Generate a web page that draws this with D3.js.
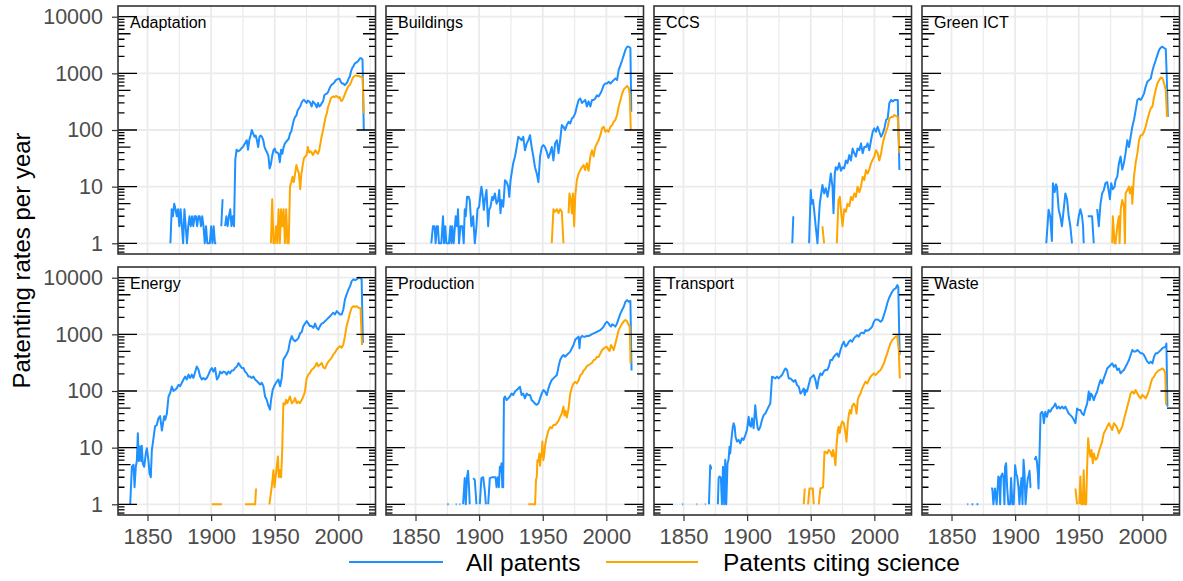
<!DOCTYPE html>
<html><head><meta charset="utf-8">
<script src="https://cdn.jsdelivr.net/npm/d3@7"></script>
<style>
body{margin:0;background:#fff}
svg{display:block;font-family:"Liberation Sans",Arial,sans-serif}
</style>
</head><body>
<svg id="chart" width="1183" height="581"></svg>
<script>
// ---------- DATA ----------
const categories = ["Adaptation","Buildings","CCS","Green ICT","Energy","Production","Transport","Waste"];
const seriesNames = ["All patents","Patents citing science"];
const seriesColors = ["#1E90FF","#FFA500"];
const xTickValues = [1850,1900,1950,2000];
const yTickValues = [1,10,100,1000,10000];
const yAxisTitle = "Patenting rates per year";

// [year, patents] pairs; null = break (zero patents)
const adaptationAll = [[1868,1],[1869,4],[1870,3],[1871,5],[1872,4],[1873,3],[1874,4],[1875,2],[1876,4],[1877,2],[1878,1],[1879,4],[1880,2],[1881,1],[1882,2],[1883,3],[1884,2],[1885,3],[1886,2],[1887,3],[1888,3],[1889,2],[1890,3],[1891,3],[1892,2],[1893,3],[1894,2],[1895,1],[1896,2],[1897,1],[1898,1],[1899,1],[1900,2],[1901,1],[1902,2],[1903,1],[1904,1],null,[1908,2],[1909,6],null,[1911,2],[1912,3],[1913,2],[1914,3],[1915,4],[1916,2],[1917,3],[1918,2],[1919,30],[1920,45],[1921,42],[1922,43],[1923,45],[1924,48],[1925,50],[1926,55],[1927,60],[1928,66],[1929,45],[1930,66],[1931,80],[1932,100],[1933,87],[1934,76],[1935,80],[1936,66],[1937,50],[1938,76],[1939,80],[1940,75],[1941,66],[1942,50],[1943,44],[1944,40],[1945,35],[1946,21],[1947,25],[1948,35],[1949,44],[1950,47],[1951,40],[1952,40],[1953,38],[1954,27],[1955,45],[1956,38],[1957,50],[1958,58],[1959,62],[1960,66],[1961,70],[1962,87],[1963,94],[1964,120],[1965,150],[1966,170],[1967,180],[1968,220],[1969,240],[1970,260],[1971,300],[1972,330],[1973,340],[1974,320],[1975,300],[1976,330],[1977,320],[1978,300],[1979,260],[1980,320],[1981,300],[1982,280],[1983,250],[1984,300],[1985,260],[1986,270],[1987,300],[1988,320],[1989,410],[1990,430],[1991,440],[1992,470],[1993,540],[1994,600],[1995,640],[1996,660],[1997,700],[1998,760],[1999,780],[2000,800],[2001,800],[2002,700],[2003,660],[2004,660],[2005,620],[2006,650],[2007,700],[2008,800],[2009,870],[2010,1100],[2011,1250],[2012,1350],[2013,1500],[2014,1550],[2015,1600],[2016,1700],[2017,1850],[2018,1850],[2019,1750],[2020,100]];
const adaptationSci = [[1947,1],[1948,6],[1949,1],[1950,1],[1951,2],[1952,1],[1953,4],[1954,1],[1955,4],[1956,2],[1957,4],[1958,1],[1959,4],[1960,1],[1961,1],[1962,10],[1963,12],[1964,15],[1965,12],[1966,17],[1967,24],[1968,20],[1969,17],[1970,9],[1971,17],[1972,24],[1973,32],[1974,34],[1975,36],[1976,50],[1977,40],[1978,42],[1979,40],[1980,36],[1981,40],[1982,44],[1983,40],[1984,38],[1985,44],[1986,60],[1987,80],[1988,100],[1989,130],[1990,170],[1991,200],[1992,260],[1993,300],[1994,360],[1995,380],[1996,390],[1997,380],[1998,400],[1999,390],[2000,370],[2001,380],[2002,330],[2003,330],[2004,370],[2005,420],[2006,480],[2007,540],[2008,600],[2009,620],[2010,700],[2011,800],[2012,870],[2013,900],[2014,920],[2015,900],[2016,900],[2017,880],[2018,870],[2019,850],[2020,195]];

const buildingsAll = [[1862.4,1],[1863.7,2],[1865,2],[1865.8,1],[1866.8,2],[1867.6,2],[1868.4,1],[1870.3,1],[1871.6,3],[1872.4,1],[1873.4,2],[1874.2,1],[1876.3,1],[1877.4,2],[1878.2,1],[1878.9,2],[1880,1],[1881.6,3],[1882.6,2],[1883.4,4],[1884.2,1],[1885.3,2],[1886.8,2],[1887.9,1],[1888.7,4],[1889.5,3],[1890.5,6.6],[1891.8,6.6],[1892.6,5.8],[1893.9,2],[1895.3,3],[1896.6,1],[1897.9,2],[1898.7,4],[1900,4.4],[1900.5,5.8],[1901.8,10],[1902.6,7.6],[1903.7,3.9],[1904.5,5.8],[1905.8,8.7],[1907.1,2],[1907.9,3.9],[1908.9,4.4],[1910.3,6.6],[1911,5.8],[1912.4,7.6],[1913.7,5],[1915,5.8],[1915.8,8.7],[1916.8,3.4],[1917.6,5.8],[1918.9,4.4],[1919.5,6.6],[1920.3,13],[1921.6,12],[1922.9,10],[1923.7,6.6],[1924.7,13],[1925.5,17],[1926.8,26],[1928.2,34],[1929.5,50],[1930.8,76],[1932.1,71],[1933.4,66],[1934.7,76],[1936,44],[1937.4,58],[1938.7,66],[1940,81],[1941.3,50],[1942.6,34],[1943.9,22],[1945.3,17],[1946.6,12],[1947.9,34],[1949.2,50],[1950.5,54],[1951.8,50],[1953.2,41],[1954.5,32],[1955.8,39],[1957.1,50],[1958.4,29],[1959.7,58],[1961.1,66],[1962.4,39],[1963.7,66],[1965,122],[1966.3,114],[1967.6,100],[1968.9,122],[1970.3,140],[1971.6,130],[1972.9,160],[1974.2,170],[1975.5,196],[1976.8,260],[1978.2,340],[1979.5,360],[1980.8,300],[1982.1,320],[1983.4,340],[1984.7,260],[1986,320],[1987.4,260],[1988.7,340],[1990,340],[1991.3,360],[1992.6,410],[1993.9,390],[1995.3,440],[1996.6,510],[1997.9,620],[1999.2,660],[2000.5,660],[2001.8,710],[2003.2,660],[2004.5,710],[2005.8,760],[2007.1,810],[2008.4,760],[2009.7,1150],[2011.1,1400],[2012.4,1700],[2013.7,2100],[2015,2600],[2016.3,2960],[2017.6,2960],[2018.9,2800],[2019.6,210]];
const buildingsSci = [[1957.1,1],[1958.4,4],[1959.7,3.6],[1961,4],[1962.4,3.4],[1963.7,4],[1965,3.6],[1966.3,1],null,[1970.3,3.4],[1971,7.6],[1972.1,5.8],[1972.9,3.4],[1973.7,7.6],[1974.7,2],[1975.5,6.6],[1976.8,13],[1978.2,17],[1979.5,19.6],[1980.8,22],[1982.1,24],[1983.4,19.6],[1984.7,26],[1986,19],[1987.4,34],[1988.7,44],[1990,34],[1991.3,50],[1992.6,58],[1993.9,66],[1995.3,81],[1996.6,107],[1997.9,114],[1999.2,93],[2000.5,100],[2001.8,93],[2003.2,114],[2004.5,122],[2005.8,140],[2007.1,150],[2008.4,184],[2009.7,260],[2011.1,340],[2012.4,440],[2013.7,520],[2015,560],[2016.3,600],[2017.6,550],[2018.4,420],[2019.2,100]];

const ccsAll = [[1935.5,1],[1936.3,3],null,[1948.7,1],[1950,8.7],[1950.8,5],[1951.8,5.8],[1952.6,4],[1953.9,2],[1955.3,1],[1956,2],[1957.1,5],[1958.4,8],[1959.2,10.7],[1960.5,7.6],[1961.8,9.4],[1963.2,6.6],[1964.5,10],[1965.8,17],[1967.1,10],[1967.9,3.4],[1968.9,17],[1969.7,22],[1971,20],[1972.4,26],[1973.7,19],[1975,22],[1976.3,21],[1977.6,29],[1978.9,26],[1980.3,36],[1981.6,29],[1982.9,47],[1984.2,39],[1985.5,34],[1986.8,47],[1988.2,44],[1989.5,58],[1990.8,39],[1992.1,50],[1993.4,50],[1994.7,58],[1996,44],[1997.4,66],[1998.7,93],[2000,107],[2001.3,93],[2002.6,114],[2003.9,93],[2005.3,76],[2006.6,87],[2007.9,107],[2009.2,150],[2010.5,160],[2011.8,300],[2013.2,340],[2014.5,320],[2015.8,340],[2017.1,340],[2018.4,340],[2019.7,19.6]];
const ccsSci = [[1959.2,2],[1960.5,1],null,[1970.5,1],[1971.8,5.8],[1972.9,6.6],[1974.2,3],[1975,2],[1976.3,4],[1977.6,3.6],[1978.9,5],[1980.3,4.5],[1981.6,6.6],[1982.9,5.8],[1984.2,7.6],[1985.5,6.6],[1986.8,10],[1988.2,8],[1989.5,10],[1990.8,15],[1992.1,13],[1993.4,19.6],[1994.7,17],[1996,20],[1997.4,26],[1998.7,30],[2000,34],[2001.3,44],[2002.6,39],[2003.9,29],[2005.3,39],[2006.6,58],[2007.9,76],[2009.2,93],[2010.5,114],[2011.8,160],[2013.2,170],[2014.5,170],[2015.8,184],[2017.1,175],[2018.4,170],[2019.7,39]];

const greenIctAll = [[1924.5,1],[1926.3,3.9],[1927.6,3],[1928.9,1.1],[1929.7,11.5],[1931.1,8],[1932.1,11],[1932.9,10],[1934.2,4],[1935.5,3],[1936.8,2],[1938.2,4],[1939.5,7.6],[1940.8,6],[1942.1,3],[1943.4,2],[1944.7,1],null,[1948.9,2],[1950,3],[1951.3,4],[1952.6,3],[1953.4,2],[1953.9,1],null,[1957.1,3],[1959.2,3],[1960.5,3],[1961.8,1],null,[1964.5,4],[1965.8,2],[1967.1,5],[1968.4,7.6],[1969.7,8.7],[1971,11.5],[1972.4,12],[1973.7,8],[1974.5,6],[1975.5,11.5],[1976.8,9],[1978.2,10],[1978.9,13],[1980.3,15],[1981.6,26],[1982.9,34],[1984.2,20],[1985.5,26],[1986.8,39],[1988.2,66],[1989.5,50],[1990.8,76],[1992.1,114],[1993.4,150],[1994.7,220],[1996.1,340],[1997.4,360],[1998.7,340],[2000,380],[2001.3,440],[2002.6,580],[2003.9,710],[2005.3,760],[2006.6,810],[2007.9,1100],[2009.2,1400],[2010.5,1700],[2011.8,2100],[2013.2,2600],[2014.5,2850],[2015.8,2960],[2017.1,2800],[2018.4,2700],[2019.2,870],[2020,170]];
const greenIctSci = [[1976.3,1],[1976.8,3],[1978.2,1],[1978.9,1],[1980.3,2],[1981.6,3],[1982.1,1],[1983,4],[1984.2,5.8],[1985.5,4.5],[1986.3,1],[1986.8,7.6],[1988.2,8.7],[1989.5,10],[1990.2,7.6],[1991.6,10],[1992.1,5],[1993.4,15],[1994.7,26],[1996.1,39],[1997.4,66],[1998.7,81],[2000,81],[2001.3,93],[2002.6,114],[2003.9,150],[2005.3,196],[2006.6,240],[2007.9,260],[2009.2,380],[2010.5,510],[2011.8,660],[2013.2,760],[2014.5,840],[2015.8,820],[2017.1,660],[2018.4,510],[2019.4,170]];

const energyAll = [[1836.4,1],[1837.7,4.6],[1839,5],[1839.8,2],[1840.8,4.6],[1841.6,5.8],[1842.4,18],[1843.2,5.8],[1844.2,10.5],[1845,5.8],[1845.5,10.8],[1846.3,5.2],[1847.4,4.6],[1848.7,8],[1849.5,9.8],[1850.8,5.8],[1851.6,3.5],[1852.6,3],[1853.4,9],[1854.2,12],[1855.2,18],[1856,24],[1857.3,25],[1858.6,33],[1859.9,36],[1861.3,20],[1862,25],[1863.1,36],[1863.9,31],[1865.2,40],[1866.5,80],[1867.8,92],[1869.1,120],[1870.4,100],[1871.7,105],[1873,112],[1874.3,128],[1875.7,122],[1877,140],[1878.3,160],[1879.6,180],[1880.9,160],[1882.2,195],[1883.5,170],[1884.8,195],[1886.1,170],[1887.4,215],[1888.7,270],[1890,240],[1891.4,180],[1892.7,160],[1894,170],[1895.3,160],[1896.6,170],[1897.9,195],[1899.2,230],[1900.5,255],[1901.8,220],[1903.1,255],[1904.5,160],[1905.8,175],[1907.1,220],[1908.4,205],[1909.7,220],[1911,215],[1912.3,195],[1913.6,220],[1914.9,205],[1916.2,230],[1917.5,230],[1918.8,255],[1920.2,270],[1921.5,310],[1922.8,280],[1924.1,255],[1925.4,255],[1926.7,220],[1928,205],[1929.3,180],[1930.6,180],[1931.9,170],[1933.2,180],[1934.6,160],[1935.9,150],[1937.2,140],[1938.5,130],[1939.8,140],[1941.1,122],[1942.4,80],[1943.7,70],[1945,55],[1946.3,47],[1947.1,70],[1948.4,105],[1949.5,121],[1951,140],[1952.9,160],[1954.2,121],[1955.5,170],[1956.8,360],[1958.1,400],[1959.4,450],[1960.7,520],[1962,760],[1963.4,930],[1964.7,800],[1966,760],[1967.3,800],[1968.6,860],[1969.9,1040],[1971.2,1100],[1972.5,1400],[1973.8,1550],[1975.1,1710],[1976.4,1550],[1977.7,1400],[1979,1400],[1980.4,1300],[1981.7,1550],[1983,1300],[1984.3,1210],[1985.6,1400],[1986.9,1550],[1988.2,1590],[1989.5,1710],[1990.8,1820],[1992.1,1950],[1993.5,2090],[1994.8,2250],[1996,2400],[1997.4,2250],[1998.7,2570],[2000,2400],[2001.3,2240],[2002.6,2240],[2003.9,2750],[2005.2,4140],[2006.5,5070],[2007.9,6170],[2009.2,7100],[2010.5,8700],[2011.8,9340],[2013.1,9100],[2014.5,9340],[2015.8,10000],[2017,10000],[2018.3,9340],[2019.3,700]];
const energySci = [[1900.5,1],[1908.4,1],null,[1926.7,1],[1934.6,1],[1935.3,1.9],null,[1945.8,1],[1947.6,2],[1949,4],[1949.8,2],[1951,3.5],[1952.5,7],[1953.2,3],[1954.2,4],[1955,3],[1955.8,8],[1956.8,61],[1958.1,58],[1958.9,70],[1959.9,61],[1960.9,70],[1962,80],[1963.4,61],[1964.7,65],[1966,75],[1967.3,61],[1968.6,65],[1969.9,61],[1971.2,70],[1972.5,80],[1973.8,99],[1975.1,170],[1976.4,195],[1977.7,210],[1979,237],[1980.4,250],[1981.7,273],[1983,313],[1984.3,273],[1985.6,290],[1986.9,313],[1988.2,260],[1989.5,250],[1990.8,290],[1992.1,330],[1993.5,359],[1994.8,390],[1996,440],[1997.4,480],[1998.7,540],[2000,580],[2001.3,620],[2002.6,580],[2003.9,660],[2005.2,930],[2006.5,1400],[2007.9,1830],[2009.2,2400],[2010.5,2950],[2011.8,3150],[2013.1,3050],[2014.5,3150],[2015.8,2950],[2017.4,2900],[2018.6,650]];

const productionAll = [[1875,1],[1876,1],null,[1881.6,1],[1882.3,1],null,[1884.5,1],[1885.2,1],null,[1887.4,1],[1888.7,2.9],[1889.5,1],[1890.5,3],[1891.3,3.9],[1892.1,1.9],[1892.6,1],null,[1895.3,2.9],[1896.6,2.7],[1897.9,1],null,[1900.5,1],[1901.8,2.9],[1903.2,3],[1904.5,1.7],[1905.3,1],null,[1907.1,1],[1908.4,2.9],[1910.3,3],[1911.6,3],[1912.9,3],[1913.7,2],[1914.7,3],[1915.5,2],[1916.3,4.6],[1916.8,3.8],[1917.6,5.3],[1918.2,2],[1918.9,2],[1919.5,74],[1920.3,80],[1921.6,69],[1922.9,74],[1924.2,80],[1925.5,90],[1926.8,85],[1928.2,98],[1929.5,104],[1930.8,111],[1932.1,119],[1933.4,85],[1934.7,90],[1936,74],[1937.4,90],[1938.7,85],[1940,85],[1941.3,69],[1942.6,65],[1943.9,60],[1945.3,57],[1946.6,60],[1947.9,74],[1949.2,90],[1950.5,104],[1951.8,98],[1953.2,85],[1954.5,111],[1955.8,136],[1957.1,156],[1958.4,167],[1959.7,179],[1961.1,191],[1962.4,268],[1963.7,352],[1965,402],[1966.3,432],[1967.6,402],[1968.9,432],[1970.3,462],[1971.6,496],[1972.9,570],[1974.2,650],[1975.5,800],[1976.8,850],[1978.2,910],[1978.9,570],[1979.5,850],[1980.8,935],[1982.1,910],[1983.4,910],[1984.7,935],[1986,935],[1987.4,970],[1988.7,1010],[1990,1040],[1991.3,1070],[1992.6,1110],[1993.9,1150],[1995.3,1190],[1996.6,1270],[1997.9,1370],[1999.2,1560],[2000.5,1670],[2001.8,1560],[2002.6,1450],[2003.7,1370],[2004.5,1500],[2005.8,1450],[2007.1,1370],[2008.4,1560],[2009.7,1910],[2011.1,2350],[2012.4,2690],[2013.7,3070],[2015,3760],[2016.3,4020],[2017.6,3760],[2018.9,3900],[2019.8,230]];
const productionSci = [[1938.7,1],[1943.2,1],[1944,1],[1944.7,2.7],[1945.3,3],[1945.8,6],[1946.6,5.6],[1947.4,7.9],[1947.9,4.8],[1948.4,6.5],[1949.2,7.9],[1949.7,12.8],[1950.5,6],[1951.3,7.9],[1951.8,10.5],[1952.6,13.7],[1953.2,15.6],[1954.5,20],[1955.8,23],[1957.1,22],[1958.4,25],[1959.7,25],[1961.1,27],[1962.4,30],[1963.7,35],[1965,40],[1965.8,48],[1966.3,53],[1967.1,37],[1967.9,45],[1968.9,34],[1970.3,49],[1971.6,90],[1972.9,115],[1974.2,136],[1975.5,145],[1976.8,136],[1978.2,155],[1979.5,190],[1980.8,200],[1982.1,230],[1983.4,245],[1984.7,275],[1986,285],[1987.4,300],[1988.7,315],[1990,350],[1991.3,360],[1992.6,400],[1993.9,400],[1995.3,460],[1996.6,530],[1997.9,560],[1999.2,590],[2000.5,600],[2001.8,530],[2002.6,510],[2003.7,650],[2004.5,600],[2005.8,530],[2007.1,690],[2008.4,910],[2009.7,1200],[2011.1,1370],[2012.4,1550],[2013.7,1700],[2015,1800],[2016.3,1700],[2017.6,1450],[2018.4,1370],[2019,310]];

const transportAll = [[1849,1],[1849.8,1],null,[1860.2,1],[1860.8,1],null,[1866.8,1],[1867.4,1],null,[1870,1],[1871,4.9],[1871.8,4.3],[1872.4,4.3],null,[1877,1],[1877.6,2.9],[1878.3,3.1],[1879.4,2.9],[1880.2,1],[1881,4.6],[1882,1],[1882.8,6.1],[1883.6,1],[1884.6,5.3],[1885.4,6.1],[1886.2,10.4],[1886.7,7.9],[1887.5,12.8],[1888.6,22],[1889.4,27],[1890.2,23.5],[1890.9,15.6],[1892,12.8],[1893.3,13.7],[1894.6,11.9],[1895.9,14.6],[1897.2,13.7],[1898.6,16.7],[1899.9,20.5],[1901.2,35],[1902,25],[1903,23.5],[1903.8,33],[1905.1,22],[1906.4,56],[1907.2,35],[1908.3,22],[1909.1,20.5],[1910.4,23.5],[1911.7,31],[1913,37.5],[1914.3,40],[1915.6,46],[1916.9,53],[1918.2,60],[1919.6,179],[1920.9,174],[1922.2,167],[1923.5,179],[1924.8,167],[1926.1,179],[1927.4,191],[1928.7,220],[1930.1,250],[1931.4,234],[1932.7,167],[1934,167],[1935.3,156],[1936.6,146],[1937.9,156],[1939.2,127],[1940.6,119],[1941.9,90],[1943.2,98],[1944.5,111],[1945.3,85],[1946.1,104],[1947.1,98],[1948.4,127],[1949.7,167],[1951,179],[1952.4,191],[1953.7,156],[1955,111],[1956.3,167],[1957.6,205],[1958.9,191],[1960.2,220],[1961.5,234],[1962.9,234],[1964.2,268],[1965.5,352],[1966.8,352],[1968.1,402],[1969.4,432],[1970.7,462],[1972,402],[1973.4,530],[1974.7,650],[1976,740],[1977.3,610],[1978.6,650],[1979.9,740],[1981.2,790],[1982.5,740],[1983.9,850],[1985.2,910],[1986.5,970],[1987.8,910],[1989.1,1040],[1990.4,1070],[1991.7,1040],[1993,1190],[1994.4,1160],[1995.7,1190],[1997,1270],[1998.3,1370],[1999.6,1670],[2000.9,1830],[2002.2,1830],[2003.5,1780],[2004.9,1670],[2006.2,1780],[2007.5,2190],[2008.8,2690],[2010.1,3500],[2011.4,4300],[2012.7,4950],[2014,5650],[2015.4,6200],[2016.7,6450],[2018,7400],[2018.8,6900],[2019.9,430]];
const transportSci = [[1944.5,1],[1945.3,1.9],null,[1947.9,1],[1949,1.9],[1951.6,1.9],[1952.4,1],null,[1956.3,1],[1957.6,1.9],[1959.7,2],[1960.8,8.5],[1961.5,8.5],[1962.9,7.9],[1964.2,9.1],[1965.5,8.5],[1966.8,7],[1967.6,9.1],[1968.6,7],[1969.4,4.9],[1970.2,10.4],[1971.3,20.5],[1972,23.5],[1972.8,18],[1973.9,25],[1974.7,29],[1976,27],[1977.3,18],[1978.1,12.8],[1979.1,27],[1979.9,37.5],[1980.7,46],[1981.8,40],[1982.5,53],[1983.9,60],[1985.2,53],[1986,40],[1987,70],[1987.8,80],[1989.1,90],[1990.4,111],[1991.7,127],[1993,146],[1994.4,136],[1995.7,156],[1997,179],[1998.3,191],[1999.6,205],[2000.9,191],[2002.2,205],[2003.5,220],[2004.9,234],[2006.2,268],[2007.5,307],[2008.8,377],[2010.1,462],[2011.4,570],[2012.7,700],[2014,790],[2015.4,850],[2016.7,910],[2018,935],[2019.2,530],[2020,167]];

const wasteAll = [[1862.4,1],[1863.2,1],null,[1865.8,1],[1867.1,1],null,[1869.7,1],[1871.1,1],null,[1881.1,1.9],[1882.1,1.9],[1882.9,1],[1884.2,1.9],[1885.5,1],[1886.8,3.1],[1887.6,2.9],[1888.2,1],[1888.9,3.1],[1890,3.5],[1890.8,2.9],[1891.6,1],[1892.1,4.6],[1892.9,5.3],[1893.7,2],[1894.7,1],[1896.1,1],[1896.8,2.9],[1897.9,1],[1898.9,1],[1900,4.9],[1900.8,3.5],[1901.6,3.1],[1902.6,2],[1903.4,1],[1904.2,2],[1905,2.9],[1905.8,1],[1906.6,6.1],[1907.4,3.5],[1908.2,1],[1909.2,2],[1910,2.9],[1910.5,3.1],[1911.3,3.9],[1912.1,2],[1912.6,2],null,[1915.3,6.1],[1916.3,6.9],[1917.1,5.7],[1917.9,3.5],[1918.4,1.9],[1919.2,7.9],[1920,40],[1921.1,43],[1921.8,40],[1922.6,27],[1923.7,43],[1925,35],[1926.3,46],[1927.6,43],[1928.9,49],[1930.3,53],[1931.6,60],[1932.9,49],[1934.2,53],[1935.5,49],[1936.8,53],[1938.2,49],[1939.5,53],[1940.8,46],[1942.1,40],[1943.4,37.5],[1944.7,35],[1946.1,31],[1947.4,27],[1948.7,49],[1950,46],[1951.3,46],[1952.6,40],[1953.9,37.5],[1955.3,49],[1956.6,60],[1957.9,98],[1958.7,69],[1959.5,90],[1960.5,85],[1961.8,69],[1963.2,85],[1964.5,98],[1965.8,127],[1967.1,156],[1968.4,136],[1969.7,167],[1971.1,205],[1972.4,250],[1973.7,268],[1975,288],[1976.3,307],[1977.6,268],[1978.9,288],[1980.3,234],[1981.6,250],[1982.9,205],[1984.2,220],[1985.5,234],[1986.8,268],[1988.2,307],[1989.5,352],[1990.8,432],[1992.1,530],[1993.4,496],[1994.7,496],[1996.1,530],[1997.4,496],[1998.7,462],[2000,462],[2001.3,432],[2002.6,377],[2003.9,330],[2005.3,307],[2006.6,330],[2007.9,307],[2009.2,402],[2010.5,462],[2011.8,462],[2013.2,496],[2014.5,530],[2015.8,570],[2017.1,590],[2018.4,610],[2018.9,690],[2019.7,53]];
const wasteSci = [[1947.4,1.9],[1948.7,1],null,[1950.5,1],[1951.3,3.1],[1952.1,1],[1953.2,1],[1953.9,4],[1954.7,1],[1955.8,1],[1956.6,4.6],[1957.4,14.6],[1958.4,8.5],[1959.2,6.9],[1960,9.1],[1961.1,5.3],[1961.8,7.9],[1963.2,6.1],[1964.5,6.5],[1965.8,8.5],[1967.1,10.4],[1968.4,12.8],[1969.7,18],[1971.1,20.5],[1972.4,23.5],[1973.7,27],[1975,23.5],[1976.3,20.5],[1977.6,27],[1978.9,25],[1980.3,22],[1981.6,18],[1982.9,20.5],[1984.2,23.5],[1985.5,31],[1986.8,40],[1988.2,53],[1989.5,69],[1990.8,90],[1992.1,98],[1993.4,90],[1994.7,104],[1996.1,90],[1997.4,80],[1998.7,74],[2000,85],[2001.3,80],[2002.6,74],[2003.9,85],[2005.3,104],[2006.6,136],[2007.9,167],[2009.2,179],[2010.5,205],[2011.8,220],[2013.2,234],[2014.5,240],[2015.8,250],[2017.1,234],[2018,205],[2018.6,57]];

const panelSeries = {
  "Adaptation": [adaptationAll, adaptationSci],
  "Buildings": [buildingsAll, buildingsSci],
  "CCS": [ccsAll, ccsSci],
  "Green ICT": [greenIctAll, greenIctSci],
  "Energy": [energyAll, energySci],
  "Production": [productionAll, productionSci],
  "Transport": [transportAll, transportSci],
  "Waste": [wasteAll, wasteSci]
};

// ---------- LAYOUT ----------
const svg = d3.select("#chart");
const pw = 257.5, ph = 248;
const colX = [118, 386, 654, 922];
const rowY = [6, 267];

const x = d3.scaleLinear().domain([1826.8, 2029.2]).range([0, pw]);
const y = d3.scaleLog().domain([Math.pow(10, -0.189), Math.pow(10, 4.189)]).range([ph, 0]);

const line = d3.line().defined(d => d != null).x(d => x(d[0])).y(d => y(d[1]));

const logTicks = [];
for (let e = -1; e <= 4; e++) {
  for (let k = 1; k <= 9; k++) {
    const v = k * Math.pow(10, e);
    if (v >= y.domain()[0] && v <= y.domain()[1]) logTicks.push({v, k});
  }
}
const tickLen = k => k === 1 ? 19 : (k === 5 ? 12.5 : 6.5);

categories.forEach((cat, i) => {
  const col = i % 4, row = Math.floor(i / 4);
  const g = svg.append("g").attr("transform", `translate(${colX[col]},${rowY[row]})`);

  g.append("rect").attr("width", pw).attr("height", ph).attr("fill", "#fff");

  const gridX = d3.range(1850, 2030, 25);
  g.selectAll(".gx").data(gridX).join("line")
    .attr("x1", d => x(d)).attr("x2", d => x(d)).attr("y1", 0).attr("y2", ph)
    .attr("stroke", "#EBEBEB").attr("stroke-width", d => d % 50 === 0 ? 1.8 : 1.2);
  g.selectAll(".gy").data(yTickValues).join("line")
    .attr("x1", 0).attr("x2", pw).attr("y1", d => y(d)).attr("y2", d => y(d))
    .attr("stroke", "#EBEBEB").attr("stroke-width", 1.8);

  const clipId = "clip" + i;
  g.append("clipPath").attr("id", clipId).append("rect").attr("width", pw).attr("height", ph);

  const dataG = g.append("g").attr("clip-path", `url(#${clipId})`);
  panelSeries[cat].forEach((s, j) => {
    dataG.append("path").datum(s).attr("d", line)
      .attr("fill", "none").attr("stroke", seriesColors[j])
      .attr("stroke-width", 2).attr("stroke-linejoin", "round");
  });

  const lt = g.append("g").attr("clip-path", `url(#${clipId})`);
  lt.selectAll(".ltl").data(logTicks).join("line")
    .attr("x1", 0).attr("x2", d => tickLen(d.k))
    .attr("y1", d => y(d.v)).attr("y2", d => y(d.v))
    .attr("stroke", "#000").attr("stroke-width", 1.3);
  lt.selectAll(".ltr").data(logTicks).join("line")
    .attr("x1", pw).attr("x2", d => pw - tickLen(d.k))
    .attr("y1", d => y(d.v)).attr("y2", d => y(d.v))
    .attr("stroke", "#000").attr("stroke-width", 1.3);

  g.append("text").attr("x", 12).attr("y", 22).attr("font-size", 16).attr("fill", "#000").text(cat);

  g.append("rect").attr("width", pw).attr("height", ph).attr("fill", "none")
    .attr("stroke", "#333333").attr("stroke-width", 1.6);

  if (col === 0) {
    const ya = g.append("g").call(d3.axisLeft(y).tickValues(yTickValues).tickFormat(d3.format("d")).tickSize(6).tickPadding(9));
    ya.select(".domain").remove();
    ya.selectAll("line").attr("stroke", "#333333").attr("stroke-width", 1.2);
    ya.selectAll("text").attr("font-size", 21.5).attr("fill", "#4D4D4D").attr("font-family", "Liberation Sans, Arial, sans-serif");
  }
  if (row === 1) {
    const xa = g.append("g").attr("transform", `translate(0,${ph})`)
      .call(d3.axisBottom(x).tickValues(xTickValues).tickFormat(d3.format("d")).tickSize(6).tickPadding(7));
    xa.select(".domain").remove();
    xa.selectAll("line").attr("stroke", "#333333").attr("stroke-width", 1.2);
    xa.selectAll("text").attr("font-size", 22).attr("fill", "#4D4D4D").attr("font-family", "Liberation Sans, Arial, sans-serif");
  }
});

svg.append("text")
  .attr("transform", `translate(30,${(rowY[0] + rowY[1] + ph) / 2}) rotate(-90)`)
  .attr("text-anchor", "middle").attr("font-size", 24).attr("fill", "#000")
  .text(yAxisTitle);

const legendItems = [
  {x1: 349, x2: 443, tx: 466},
  {x1: 606, x2: 698, tx: 723}
];
legendItems.forEach((it, j) => {
  svg.append("line").attr("x1", it.x1).attr("x2", it.x2).attr("y1", 562).attr("y2", 562)
    .attr("stroke", seriesColors[j]).attr("stroke-width", 2.2);
  svg.append("text").attr("x", it.tx).attr("y", 571).attr("font-size", 24.5).attr("fill", "#000")
    .text(seriesNames[j]);
});
</script>
</body></html>
